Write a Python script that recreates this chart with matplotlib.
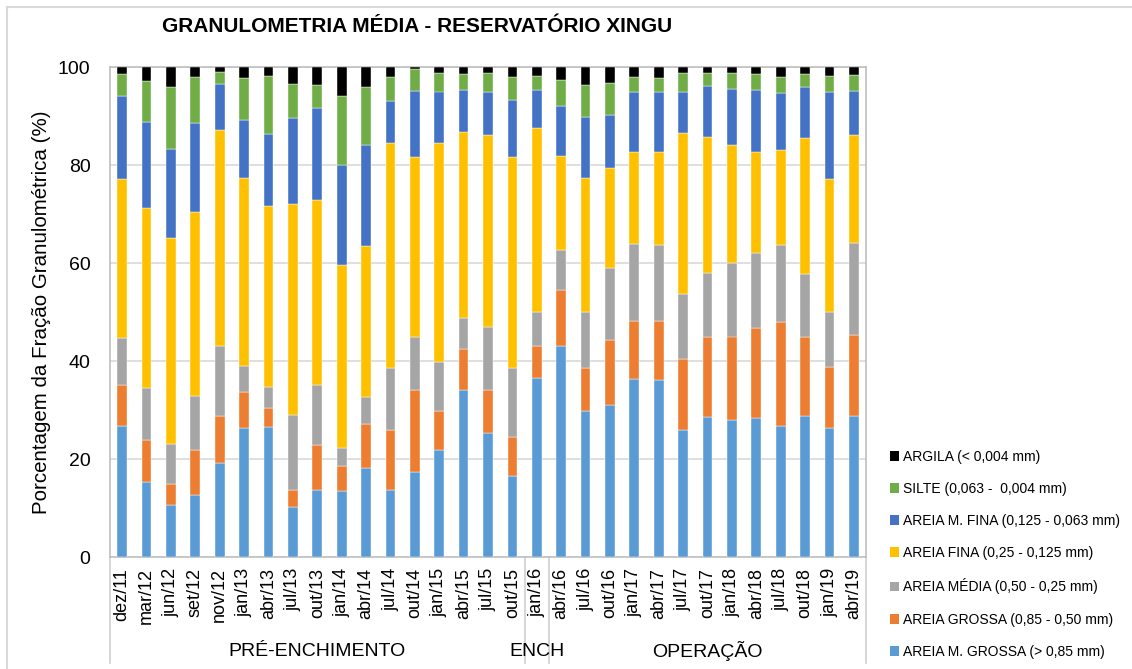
import numpy as np
import matplotlib
matplotlib.use("Agg")
import matplotlib.pyplot as plt
from matplotlib.lines import Line2D
from matplotlib.patches import Patch
import matplotlib.transforms as mtransforms

plt.rcParams['font.family'] = ['Liberation Sans', 'DejaVu Sans']

categories = ["dez/11", "mar/12", "jun/12", "set/12", "nov/12", "jan/13", "abr/13", "jul/13",
              "out/13", "jan/14", "abr/14", "jul/14", "out/14", "jan/15", "abr/15", "jul/15",
              "out/15", "jan/16", "abr/16", "jul/16", "out/16", "jan/17", "abr/17", "jul/17",
              "out/17", "jan/18", "abr/18", "jul/18", "out/18", "jan/19", "abr/19"]

areia_m_grossa = [26.7, 15.4, 10.7, 12.6, 19.1, 26.3, 26.6, 10.3, 13.7, 13.5, 18.2, 13.6, 17.3, 21.9,
                  34.1, 25.4, 16.5, 36.5, 43.0, 29.7, 31.0, 36.3, 36.1, 25.9, 28.5, 27.9, 28.3,
                  26.7, 28.8, 26.3, 28.8]
areia_grossa = [8.5, 8.4, 4.3, 9.2, 9.6, 7.3, 3.9, 3.4, 9.2, 5.0, 8.9, 12.3, 16.7, 7.8,
                8.3, 8.6, 7.9, 6.5, 11.4, 8.9, 13.2, 11.8, 12.0, 14.5, 16.5, 17.1, 18.5,
                21.3, 16.2, 12.5, 16.6]
areia_media = [9.4, 10.6, 8.0, 11.1, 14.4, 5.3, 4.2, 15.3, 12.3, 3.7, 5.6, 12.7, 10.8, 10.1,
               6.3, 13.0, 14.1, 6.9, 8.3, 11.5, 14.7, 15.8, 15.5, 13.3, 13.0, 14.9, 15.2,
               15.7, 12.8, 11.3, 18.6]
areia_fina = [32.5, 36.9, 42.2, 37.6, 44.0, 38.4, 36.9, 43.0, 37.6, 37.3, 30.8, 45.8, 36.8, 44.6,
              38.0, 39.2, 43.2, 37.7, 19.2, 27.3, 20.4, 18.8, 19.1, 32.9, 27.8, 24.1, 20.7,
              19.3, 27.7, 27.0, 22.2]
areia_m_fina = [17.0, 17.4, 18.0, 18.1, 9.4, 11.8, 14.8, 17.5, 18.8, 20.6, 20.5, 8.6, 13.6, 10.6,
                8.7, 8.6, 11.6, 7.7, 10.1, 12.3, 10.9, 12.2, 12.1, 8.2, 10.3, 11.6, 12.7,
                11.6, 10.4, 17.7, 8.9]
silte = [4.5, 8.5, 12.8, 9.3, 2.4, 8.7, 11.8, 7.0, 4.7, 13.9, 11.9, 5.0, 4.3, 3.8,
         3.2, 4.0, 4.6, 2.9, 5.4, 6.6, 6.6, 3.1, 3.0, 3.9, 2.6, 3.2, 3.2,
         3.4, 2.7, 3.4, 3.3]
argila = [1.4, 2.8, 4.0, 2.1, 1.1, 2.2, 1.8, 3.5, 3.7, 6.0, 4.1, 2.0, 0.5, 1.2,
          1.4, 1.2, 2.1, 1.8, 2.6, 3.7, 3.2, 2.0, 2.2, 1.3, 1.3, 1.2, 1.4,
          2.0, 1.4, 1.8, 1.6]

series_labels = ["AREIA M. GROSSA (> 0,85 mm)", "AREIA GROSSA (0,85 - 0,50 mm)",
                 "AREIA MÉDIA (0,50 - 0,25 mm)", "AREIA FINA (0,25 - 0,125 mm)",
                 "AREIA M. FINA (0,125 - 0,063 mm)", "SILTE (0,063 -  0,004 mm)",
                 "ARGILA (< 0,004 mm)"]
series_colors = ["#5B9BD5", "#ED7D31", "#A5A5A5", "#FFC000", "#4472C4", "#70AD47", "#000000"]
series_values = [areia_m_grossa, areia_grossa, areia_media, areia_fina, areia_m_fina, silte, argila]

groups = ["PRÉ-ENCHIMENTO", "ENCH", "OPERAÇÃO"]
group_sizes = [17, 1, 13]

W, H = 1132, 669
fig = plt.figure(figsize=(W / 100, H / 100), dpi=100)
ax = fig.add_axes([110 / W, 1 - 557 / H, 756 / W, 490 / H])

x = np.arange(len(categories))
bottom = np.zeros(len(categories))
handles = []
for vals, col, lab in zip(series_values, series_colors, series_labels):
    v = np.array(vals)
    ax.bar(x, v, bottom=bottom, width=0.4, color=col, edgecolor='white', linewidth=0.3, zorder=3)
    bottom += v
    handles.append(Patch(facecolor=col, edgecolor='none', label=lab))

ax.set_xlim(-0.5, len(categories) - 0.5)
ax.set_ylim(0, 100)
ax.set_yticks([0, 20, 40, 60, 80, 100])
ax.tick_params(axis='y', length=0, pad=14, labelsize=14)
ax.set_xticks(x)
ax.set_xticklabels(categories, rotation=90, fontsize=13)
ax.tick_params(axis='x', length=0, pad=8)
ax.grid(axis='y', color='#d9d9d9', linewidth=1.2, zorder=0)
for s in ax.spines.values():
    s.set_color('#bfbfbf')
    s.set_linewidth(1.2)

ax.set_ylabel("Porcentagem da Fração Granulométrica (%)", fontsize=14.8)
ax.yaxis.set_label_coords(-0.078, 0.5)

# group separators and labels
trans = mtransforms.blended_transform_factory(ax.transData, ax.transAxes)
edges = np.concatenate([[0], np.cumsum(group_sizes)]) - 0.5
for e in edges:
    ax.plot([e, e], [0, -0.217], transform=trans, color='#d0d0d0', linewidth=1.2,
            clip_on=False, zorder=1)
for g, a, b in zip(groups, edges[:-1], edges[1:]):
    ax.text((a + b) / 2, -0.192, g, transform=trans, ha='center', va='center',
            fontsize=14, family=['Liberation Sans Narrow', 'Liberation Sans'])

fig.text(417 / W, 1 - 27 / H, "GRANULOMETRIA MÉDIA - RESERVATÓRIO XINGU",
         ha='center', va='center', fontsize=15, fontweight='bold')

fig.legend(handles=handles[::-1], loc='upper left', bbox_to_anchor=(884 / W, 1 - 444 / H),
           frameon=False, fontsize=10, labelspacing=1.31, handlelength=0.7,
           handleheight=0.7, handletextpad=0.25, borderaxespad=0)

# outer chart border
fig.add_artist(Line2D([7 / W, 1], [1 - 7 / H, 1 - 7 / H], color='#d9d9d9', linewidth=1.5))
fig.add_artist(Line2D([7 / W, 7 / W], [0, 1 - 7 / H], color='#d9d9d9', linewidth=1.5))

fig.savefig("out.png", dpi=100)
